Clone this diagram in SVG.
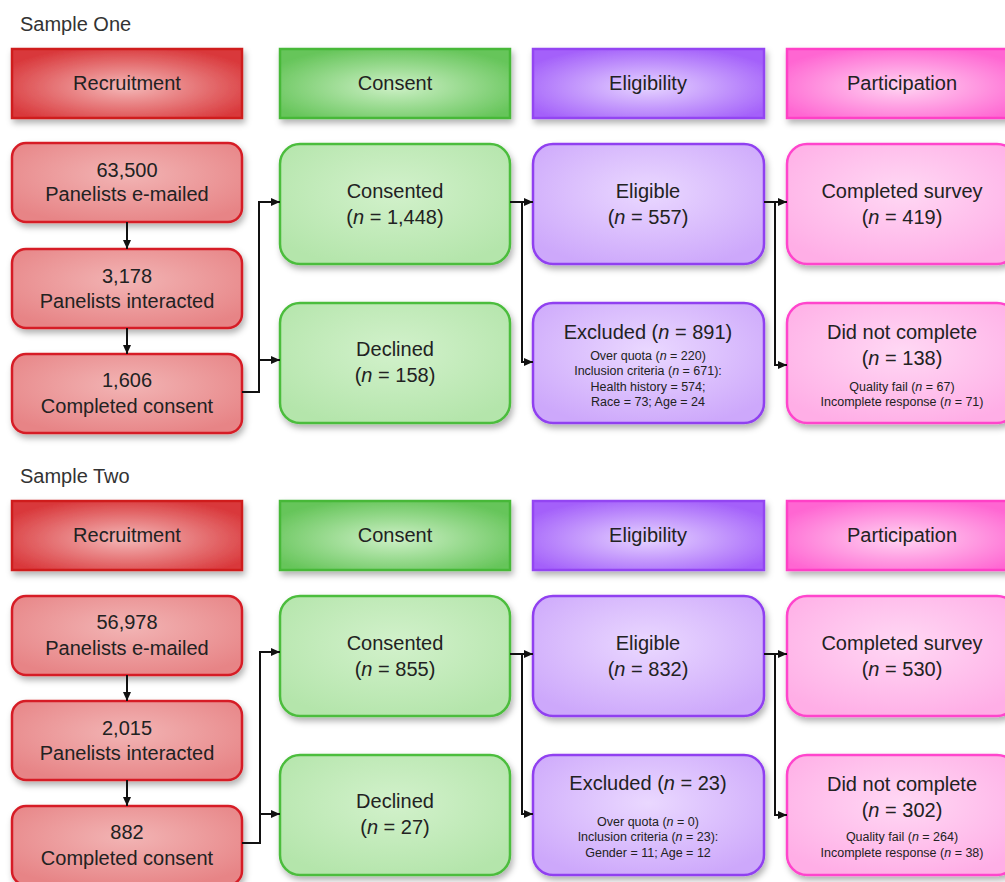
<svg xmlns="http://www.w3.org/2000/svg" width="1005" height="882" viewBox="0 0 1005 882">
<defs>
<style>
text{font-family:"Liberation Sans",Arial,sans-serif;fill:#222;text-anchor:middle}
.title{font-size:20px;text-anchor:start;fill:#333}
.hd{font-size:20px}
.t{font-size:20px}
.s{font-size:12.5px}
.i{font-style:italic}
.hr{fill:url(#gHr);stroke:#cf1a1e;stroke-width:2.5}
.hg{fill:url(#gHg);stroke:#46b838;stroke-width:2.5}
.hp{fill:url(#gHp);stroke:#9344f2;stroke-width:2.5}
.hk{fill:url(#gHk);stroke:#ff3fc6;stroke-width:2.5}
.br{fill:url(#gBr);stroke:#d61f27;stroke-width:2.5}
.bg{fill:url(#gBg);stroke:#4cbd3d;stroke-width:2.5}
.bp{fill:url(#gBp);stroke:#9040f0;stroke-width:2.5}
.bk{fill:url(#gBk);stroke:#ff44cc;stroke-width:2.5}
.c{fill:none;stroke:#111;stroke-width:2}
.a{marker-end:url(#arr)}
</style>
<filter id="sh" x="-10%" y="-10%" width="125%" height="130%">
<feDropShadow dx="2" dy="4" stdDeviation="3" flood-color="#000" flood-opacity="0.3"/>
</filter>
<radialGradient id="gHr" cx="0.5" cy="0.55" r="0.6"><stop offset="0" stop-color="#f4b8b8"/><stop offset="1" stop-color="#d9383b"/></radialGradient>
<radialGradient id="gHg" cx="0.5" cy="0.55" r="0.6"><stop offset="0" stop-color="#cdf0c6"/><stop offset="1" stop-color="#66c55a"/></radialGradient>
<radialGradient id="gHp" cx="0.5" cy="0.55" r="0.6"><stop offset="0" stop-color="#e6d4ff"/><stop offset="1" stop-color="#a461fa"/></radialGradient>
<radialGradient id="gHk" cx="0.5" cy="0.55" r="0.6"><stop offset="0" stop-color="#ffd4f2"/><stop offset="1" stop-color="#ff66d2"/></radialGradient>
<radialGradient id="gBr" cx="0.5" cy="0.4" r="0.65"><stop offset="0" stop-color="#f2b4b4"/><stop offset="1" stop-color="#e78486"/></radialGradient>
<radialGradient id="gBg" cx="0.5" cy="0.4" r="0.65"><stop offset="0" stop-color="#d2f1cb"/><stop offset="1" stop-color="#b4e5ab"/></radialGradient>
<radialGradient id="gBp" cx="0.5" cy="0.4" r="0.65"><stop offset="0" stop-color="#ead8ff"/><stop offset="1" stop-color="#cda8fb"/></radialGradient>
<radialGradient id="gBk" cx="0.5" cy="0.4" r="0.65"><stop offset="0" stop-color="#ffd8f4"/><stop offset="1" stop-color="#ffaee6"/></radialGradient>
<marker id="arr" viewBox="0 0 9 8" refX="9" refY="4" markerWidth="9" markerHeight="8" markerUnits="userSpaceOnUse" orient="auto"><path d="M0,0 L9,4 L0,8 z" fill="#111"/></marker>
</defs>
<rect width="1005" height="882" fill="#fff"/>

<g id="sample-one">
<text class="title" x="20" y="31">Sample One</text>
<g id="s1-h-recruitment"><rect class="hr" filter="url(#sh)" x="12" y="49" width="230" height="69"/><text class="hd" x="127" y="90">Recruitment</text></g>
<g id="s1-h-consent"><rect class="hg" filter="url(#sh)" x="280" y="49" width="230" height="69"/><text class="hd" x="395" y="90">Consent</text></g>
<g id="s1-h-eligibility"><rect class="hp" filter="url(#sh)" x="533" y="49" width="231" height="69"/><text class="hd" x="648" y="90">Eligibility</text></g>
<g id="s1-h-participation"><rect class="hk" filter="url(#sh)" x="787" y="49" width="230" height="69"/><text class="hd" x="902" y="90">Participation</text></g>

<g id="s1-emailed"><rect class="br" filter="url(#sh)" x="12" y="143" width="230" height="79" rx="14"/><text class="t" x="127" y="177">63,500</text><text class="t" x="127" y="201">Panelists e-mailed</text></g>
<g id="s1-interacted"><rect class="br" filter="url(#sh)" x="12" y="249" width="230" height="79" rx="14"/><text class="t" x="127" y="283">3,178</text><text class="t" x="127" y="308">Panelists interacted</text></g>
<g id="s1-completed-consent"><rect class="br" filter="url(#sh)" x="12" y="354" width="230" height="79" rx="14"/><text class="t" x="127" y="387">1,606</text><text class="t" x="127" y="413">Completed consent</text></g>

<g id="s1-consented"><rect class="bg" filter="url(#sh)" x="280" y="144" width="230" height="120" rx="20"/><text class="t" x="395" y="198">Consented</text><text class="t" x="395" y="224">(<tspan class="i">n</tspan> = 1,448)</text></g>
<g id="s1-declined"><rect class="bg" filter="url(#sh)" x="280" y="303" width="230" height="120" rx="20"/><text class="t" x="395" y="356">Declined</text><text class="t" x="395" y="382">(<tspan class="i">n</tspan> = 158)</text></g>

<g id="s1-eligible"><rect class="bp" filter="url(#sh)" x="533" y="144" width="231" height="120" rx="20"/><text class="t" x="648" y="198">Eligible</text><text class="t" x="648" y="224">(<tspan class="i">n</tspan> = 557)</text></g>
<g id="s1-excluded"><rect class="bp" filter="url(#sh)" x="533" y="303" width="231" height="120" rx="20"/><text class="t" x="648" y="339">Excluded (<tspan class="i">n</tspan> = 891)</text>
<text class="s" x="648" y="360">Over quota (<tspan class="i">n</tspan> = 220)</text>
<text class="s" x="648" y="375">Inclusion criteria (<tspan class="i">n</tspan> = 671):</text>
<text class="s" x="648" y="391">Health history = 574;</text>
<text class="s" x="648" y="406">Race = 73; Age = 24</text></g>

<g id="s1-completed-survey"><rect class="bk" filter="url(#sh)" x="787" y="144" width="230" height="120" rx="20"/><text class="t" x="902" y="198">Completed survey</text><text class="t" x="902" y="224">(<tspan class="i">n</tspan> = 419)</text></g>
<g id="s1-not-complete"><rect class="bk" filter="url(#sh)" x="787" y="303" width="230" height="120" rx="20"/><text class="t" x="902" y="339">Did not complete</text><text class="t" x="902" y="365">(<tspan class="i">n</tspan> = 138)</text>
<text class="s" x="902" y="391">Quality fail (<tspan class="i">n</tspan> = 67)</text>
<text class="s" x="902" y="406">Incomplete response (<tspan class="i">n</tspan> = 71)</text></g>
</g>

<g id="sample-two">
<text class="title" x="20" y="483">Sample Two</text>
<g id="s2-h-recruitment"><rect class="hr" filter="url(#sh)" x="12" y="501" width="230" height="69"/><text class="hd" x="127" y="542">Recruitment</text></g>
<g id="s2-h-consent"><rect class="hg" filter="url(#sh)" x="280" y="501" width="230" height="69"/><text class="hd" x="395" y="542">Consent</text></g>
<g id="s2-h-eligibility"><rect class="hp" filter="url(#sh)" x="533" y="501" width="231" height="69"/><text class="hd" x="648" y="542">Eligibility</text></g>
<g id="s2-h-participation"><rect class="hk" filter="url(#sh)" x="787" y="501" width="230" height="69"/><text class="hd" x="902" y="542">Participation</text></g>

<g id="s2-emailed"><rect class="br" filter="url(#sh)" x="12" y="596" width="230" height="79" rx="14"/><text class="t" x="127" y="629">56,978</text><text class="t" x="127" y="655">Panelists e-mailed</text></g>
<g id="s2-interacted"><rect class="br" filter="url(#sh)" x="12" y="701" width="230" height="79" rx="14"/><text class="t" x="127" y="735">2,015</text><text class="t" x="127" y="760">Panelists interacted</text></g>
<g id="s2-completed-consent"><rect class="br" filter="url(#sh)" x="12" y="806" width="230" height="79" rx="14"/><text class="t" x="127" y="839">882</text><text class="t" x="127" y="865">Completed consent</text></g>

<g id="s2-consented"><rect class="bg" filter="url(#sh)" x="280" y="596" width="230" height="120" rx="20"/><text class="t" x="395" y="650">Consented</text><text class="t" x="395" y="676">(<tspan class="i">n</tspan> = 855)</text></g>
<g id="s2-declined"><rect class="bg" filter="url(#sh)" x="280" y="755" width="230" height="120" rx="20"/><text class="t" x="395" y="808">Declined</text><text class="t" x="395" y="834">(<tspan class="i">n</tspan> = 27)</text></g>

<g id="s2-eligible"><rect class="bp" filter="url(#sh)" x="533" y="596" width="231" height="120" rx="20"/><text class="t" x="648" y="650">Eligible</text><text class="t" x="648" y="676">(<tspan class="i">n</tspan> = 832)</text></g>
<g id="s2-excluded"><rect class="bp" filter="url(#sh)" x="533" y="755" width="231" height="120" rx="20"/><text class="t" x="648" y="790">Excluded (<tspan class="i">n</tspan> = 23)</text>
<text class="s" x="648" y="826">Over quota (<tspan class="i">n</tspan> = 0)</text>
<text class="s" x="648" y="841">Inclusion criteria (<tspan class="i">n</tspan> = 23):</text>
<text class="s" x="648" y="857">Gender = 11; Age = 12</text></g>

<g id="s2-completed-survey"><rect class="bk" filter="url(#sh)" x="787" y="596" width="230" height="120" rx="20"/><text class="t" x="902" y="650">Completed survey</text><text class="t" x="902" y="676">(<tspan class="i">n</tspan> = 530)</text></g>
<g id="s2-not-complete"><rect class="bk" filter="url(#sh)" x="787" y="755" width="230" height="120" rx="20"/><text class="t" x="902" y="791">Did not complete</text><text class="t" x="902" y="817">(<tspan class="i">n</tspan> = 302)</text>
<text class="s" x="902" y="841">Quality fail (<tspan class="i">n</tspan> = 264)</text>
<text class="s" x="902" y="857">Incomplete response (<tspan class="i">n</tspan> = 38)</text></g>
</g>

<g id="connectors">
<path class="c a" d="M127,222 V249"/>
<path class="c a" d="M127,328 V354"/>
<path class="c a" d="M242,392 H259 V202 H280"/>
<path class="c a" d="M259,360 H280"/>
<path class="c a" d="M510,202 H533"/>
<path class="c a" d="M522,202 V362 H533"/>
<path class="c a" d="M764,202 H787"/>
<path class="c a" d="M775,202 V365 H787"/>

<path class="c a" d="M127,675 V701"/>
<path class="c a" d="M127,780 V806"/>
<path class="c a" d="M242,843 H260 V652 H280"/>
<path class="c a" d="M260,814 H280"/>
<path class="c a" d="M510,654 H533"/>
<path class="c a" d="M522,654 V814 H533"/>
<path class="c a" d="M764,654 H787"/>
<path class="c a" d="M775,654 V815 H787"/>
</g>
</svg>
